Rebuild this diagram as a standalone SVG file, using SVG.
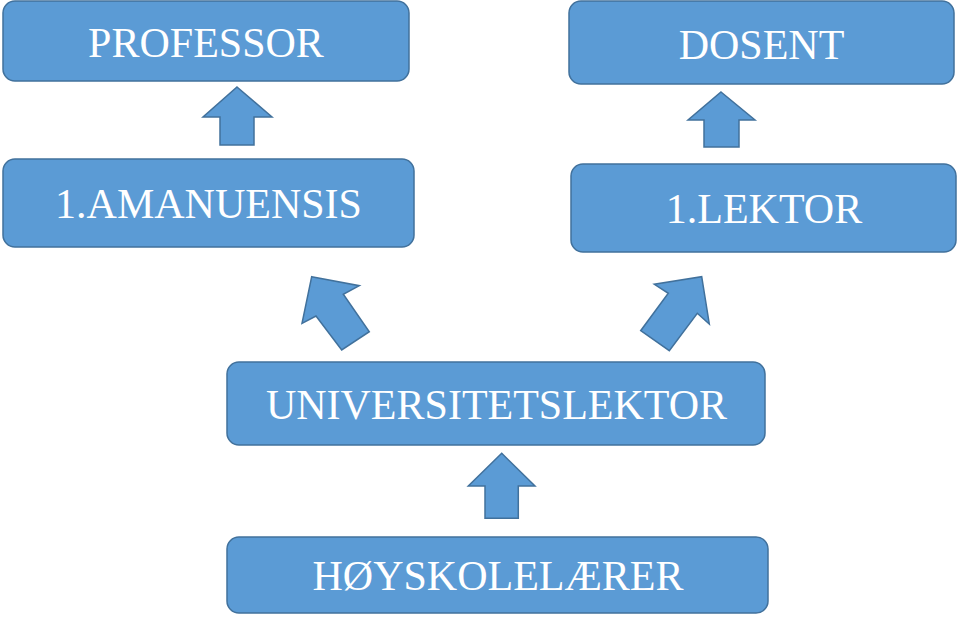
<svg xmlns="http://www.w3.org/2000/svg" width="960" height="620" viewBox="0 0 960 620">
<style>
.box{fill:#5B9BD5;stroke:#41719C;stroke-width:1.5}
.arr{fill:#5B9BD5;stroke:#41719C;stroke-width:1.5;stroke-linejoin:miter}
.lbl{font-family:"Liberation Serif","Times New Roman",serif;font-size:42px;fill:#FFFFFF;text-anchor:middle}
</style>
<rect width="960" height="620" fill="#FFFFFF"/>
<g id="connectors">
<polygon class="arr" points="237,87 272,117 254,117 254,145 220,145 220,117 203,117"/>
<polygon class="arr" points="721,92 755,120 739,120 739,147 704,147 704,120 688,120"/>
<polygon class="arr" points="311.7,276.7 359.3,285.7 343.3,294.3 369.3,331.7 341.7,350 316,316 302,323.3"/>
<polygon class="arr" points="701.7,276.7 709.3,324 697.3,313.3 669.3,350.7 640.7,330.7 668.3,293.3 654.3,284.3"/>
<polygon class="arr" points="501.7,453.3 535,486 518.3,486 518.3,518.3 485,518.3 485,486 468.3,486"/>
</g>
<g id="professor">
<rect class="box" x="3" y="1" width="406" height="80" rx="12"/>
<text class="lbl" x="206" y="57">PROFESSOR</text>
</g>
<g id="dosent">
<rect class="box" x="569" y="1" width="385" height="83" rx="12"/>
<text class="lbl" x="761.5" y="59">DOSENT</text>
</g>
<g id="amanuensis">
<rect class="box" x="3" y="159" width="411" height="88" rx="12"/>
<text class="lbl" x="208.5" y="218">1.AMANUENSIS</text>
</g>
<g id="lektor">
<rect class="box" x="571" y="164" width="385" height="88" rx="12"/>
<text class="lbl" x="764" y="223">1.LEKTOR</text>
</g>
<g id="universitetslektor">
<rect class="box" x="227" y="362" width="538" height="83" rx="12"/>
<text class="lbl" x="496.5" y="419">UNIVERSITETSLEKTOR</text>
</g>
<g id="hoyskolelaerer">
<rect class="box" x="227" y="537" width="541" height="76" rx="12"/>
<text class="lbl" x="498" y="590">HØYSKOLELÆRER</text>
</g>
</svg>
